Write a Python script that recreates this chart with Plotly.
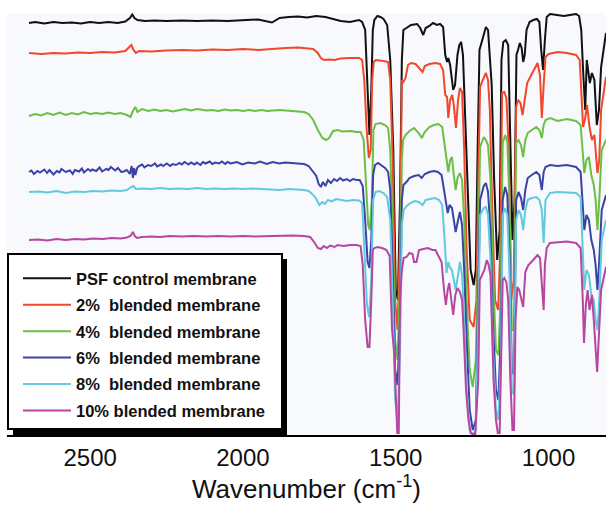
import plotly.graph_objects as go

# FTIR spectra of PSF membranes, stacked with vertical offsets.
# Each list holds (wavenumber cm^-1, offset signal) pairs; the y axis runs
# top-down so that absorption bands point downwards.

psf_control = [
    (2700, 23), (2680, 22), (2650, 23.5), (2620, 22), (2590, 23), (2560, 22.5), (2530, 23.5),
    (2500, 22), (2470, 23), (2440, 22), (2410, 23), (2385, 21.5), (2370, 18), (2362, 14.5),
    (2355, 18), (2345, 20), (2320, 21), (2290, 20.5), (2250, 21), (2200, 20.5), (2150, 21),
    (2100, 20.5), (2050, 21), (2000, 20), (1950, 19.5), (1905, 22.5), (1880, 18), (1850, 17),
    (1820, 16.5), (1790, 17.5), (1760, 16), (1730, 17), (1700, 19), (1680, 21), (1650, 22),
    (1620, 20), (1610, 22), (1600, 30), (1592, 90), (1586, 135), (1580, 90), (1575, 30),
    (1570, 20), (1560, 16), (1550, 17), (1540, 19), (1528, 25), (1518, 60), (1508, 150),
    (1500, 290), (1493, 300), (1486, 200), (1480, 60), (1475, 30), (1465, 28), (1450, 25),
    (1430, 24), (1420, 28), (1410, 35), (1402, 28), (1390, 26), (1378, 23), (1365, 25),
    (1355, 24), (1345, 27), (1338, 55), (1332, 62), (1328, 58), (1322, 65), (1318, 75),
    (1312, 90), (1306, 85), (1298, 55), (1292, 45), (1286, 42), (1280, 55), (1273, 120),
    (1265, 200), (1255, 270), (1245, 285), (1238, 270), (1232, 150), (1226, 50), (1215, 38),
    (1205, 27), (1198, 30), (1192, 55), (1186, 85), (1178, 180), (1168, 260), (1160, 230),
    (1154, 60), (1148, 42), (1140, 40), (1132, 45), (1125, 150), (1118, 240), (1111, 200),
    (1105, 55), (1100, 50), (1094, 43), (1088, 48), (1083, 62), (1078, 55), (1072, 30),
    (1062, 22), (1050, 20), (1038, 19), (1030, 22), (1024, 50), (1018, 70), (1012, 40),
    (1006, 17), (995, 14), (970, 15), (950, 16), (930, 15), (910, 14), (900, 16), (893, 30),
    (887, 70), (880, 110), (875, 60), (865, 83), (858, 73), (850, 80), (842, 125), (835, 110),
    (828, 67), (812, 33),
]

blend_2 = [
    (2700, 53), (2660, 54), (2620, 53), (2580, 53.5), (2540, 52.5), (2500, 53), (2460, 52),
    (2420, 52.5), (2385, 51), (2365, 45), (2358, 50), (2350, 53), (2340, 51), (2300, 51.5),
    (2250, 50.5), (2200, 50), (2150, 50.5), (2100, 49.5), (2050, 50), (2000, 49), (1950, 50),
    (1900, 48.5), (1860, 48), (1820, 47.5), (1790, 48), (1770, 49), (1755, 53), (1745, 58),
    (1735, 60), (1720, 59.5), (1700, 60), (1680, 58.5), (1650, 58), (1620, 58), (1610, 60),
    (1603, 80), (1595, 130), (1588, 158), (1582, 150), (1577, 80), (1572, 62), (1565, 60),
    (1540, 61), (1525, 62), (1518, 80), (1510, 160), (1502, 300), (1494, 330), (1486, 240),
    (1480, 80), (1475, 82), (1468, 78), (1460, 65), (1450, 63), (1435, 64), (1420, 70),
    (1412, 72), (1405, 66), (1390, 64), (1370, 63), (1355, 64), (1345, 70), (1338, 95),
    (1332, 97), (1328, 118), (1322, 100), (1315, 95), (1310, 105), (1303, 128), (1296, 100),
    (1290, 88), (1283, 92), (1276, 150), (1268, 250), (1258, 320), (1245, 327), (1236, 300),
    (1230, 180), (1224, 87), (1215, 80), (1205, 73), (1198, 80), (1192, 110), (1185, 200),
    (1175, 300), (1165, 310), (1158, 250), (1152, 93), (1145, 92), (1138, 98), (1130, 150),
    (1122, 300), (1114, 280), (1106, 107), (1100, 100), (1092, 103), (1085, 115), (1078, 100),
    (1070, 83), (1060, 77), (1048, 70), (1036, 63), (1028, 75), (1022, 118), (1016, 85),
    (1010, 57), (1000, 54), (970, 52), (940, 53), (910, 55), (898, 60), (892, 90), (887, 127),
    (880, 118), (874, 105), (866, 127), (858, 140), (850, 135), (845, 160), (840, 173),
    (834, 160), (828, 110), (812, 77),
]

blend_4 = [
    (2700, 116), (2680, 114), (2660, 115.5), (2640, 113), (2620, 115), (2600, 112.5),
    (2580, 115), (2560, 113), (2540, 114.5), (2520, 112), (2500, 114), (2480, 113),
    (2460, 114), (2440, 112.5), (2420, 114), (2400, 113), (2380, 115), (2368, 117),
    (2360, 111), (2352, 107), (2345, 112), (2330, 109), (2310, 111), (2290, 109.5),
    (2270, 111), (2250, 110), (2230, 111.5), (2210, 110), (2190, 109), (2170, 110.5),
    (2150, 109), (2120, 110.5), (2100, 110), (2080, 111), (2060, 109.5), (2040, 110.5),
    (2020, 110), (2000, 111), (1980, 110), (1960, 111), (1940, 110), (1920, 111),
    (1900, 110.5), (1880, 110), (1860, 110.5), (1840, 111), (1820, 111.5), (1800, 112),
    (1785, 114), (1770, 120), (1755, 130), (1740, 138), (1728, 140), (1718, 138), (1705, 131),
    (1690, 130), (1675, 131.5), (1660, 131), (1645, 131), (1630, 132), (1615, 132),
    (1605, 140), (1598, 180), (1590, 225), (1585, 230), (1578, 200), (1573, 130), (1566, 124),
    (1550, 123), (1535, 125), (1525, 128), (1518, 150), (1510, 230), (1502, 340), (1494, 360),
    (1486, 280), (1480, 160), (1476, 140), (1468, 135), (1455, 131), (1440, 128), (1425, 133),
    (1415, 138), (1405, 132), (1390, 127), (1375, 125), (1360, 124), (1348, 127), (1340, 145),
    (1334, 160), (1328, 172), (1322, 160), (1316, 157), (1310, 175), (1304, 190), (1298, 178),
    (1290, 173), (1283, 180), (1276, 220), (1268, 300), (1258, 370), (1248, 387), (1238, 360),
    (1230, 250), (1224, 147), (1212, 137), (1205, 140), (1198, 145), (1190, 180), (1182, 270),
    (1172, 350), (1164, 355), (1156, 290), (1150, 143), (1142, 135), (1135, 142), (1128, 200),
    (1120, 330), (1113, 330), (1106, 143), (1098, 140), (1090, 145), (1083, 157), (1076, 140),
    (1068, 133), (1055, 130), (1040, 127), (1030, 130), (1022, 138), (1016, 125), (1010, 120),
    (995, 118), (970, 121), (940, 119), (910, 121), (895, 125), (889, 150), (883, 173),
    (876, 160), (868, 157), (860, 175), (852, 185), (846, 200), (840, 230), (834, 200),
    (826, 150), (812, 140),
]

blend_6 = [
    (2700, 172), (2692, 170.5), (2684, 174), (2672, 171), (2664, 172.5), (2650, 169.5),
    (2641, 173), (2633, 170), (2620, 174.5), (2609, 171), (2600, 172.5), (2594, 169),
    (2580, 172), (2566, 170.5), (2557, 174), (2550, 170), (2536, 171.5), (2527, 168.5),
    (2520, 172.5), (2507, 169), (2498, 171), (2493, 169.5), (2480, 171), (2469, 167.5),
    (2461, 171.5), (2447, 169), (2440, 170), (2432, 167), (2418, 170.5), (2409, 168),
    (2398, 172), (2390, 171.5), (2380, 170), (2370, 174), (2364, 166), (2360, 178),
    (2356, 168), (2352, 175), (2346, 168), (2340, 166), (2330, 164.5), (2322, 167.5),
    (2311, 165), (2300, 166), (2288, 163.5), (2281, 166.5), (2268, 164.5), (2261, 166),
    (2249, 163.5), (2238, 166), (2230, 164), (2219, 165), (2208, 163), (2200, 164.5),
    (2191, 162), (2178, 164.5), (2170, 162.5), (2158, 164.5), (2151, 162.5), (2139, 165),
    (2131, 162), (2122, 163.5), (2109, 161.5), (2100, 164), (2091, 162.5), (2078, 163.5),
    (2069, 161.5), (2058, 164), (2051, 162), (2040, 163.5), (2020, 162), (2002, 164.5),
    (1983, 162.5), (1961, 163.5), (1944, 161.5), (1922, 164), (1903, 162), (1881, 163.5),
    (1862, 162.5), (1840, 163), (1820, 163.5), (1800, 164), (1785, 166), (1770, 172),
    (1760, 176), (1752, 184), (1745, 187), (1738, 182), (1730, 186), (1722, 180), (1712, 183),
    (1702, 179), (1692, 181), (1682, 178), (1672, 180.5), (1660, 179), (1650, 181),
    (1640, 179), (1628, 180), (1618, 180), (1608, 186), (1600, 220), (1592, 262), (1586, 268),
    (1580, 240), (1574, 175), (1568, 165), (1558, 163), (1545, 166), (1535, 168), (1525, 172),
    (1518, 190), (1510, 270), (1502, 370), (1494, 385), (1486, 320), (1480, 200), (1475, 185),
    (1465, 182), (1455, 178), (1440, 176), (1425, 175), (1415, 178), (1405, 174), (1390, 172),
    (1375, 171), (1362, 172), (1350, 175), (1342, 190), (1336, 200), (1330, 213), (1324, 205),
    (1316, 208), (1310, 220), (1304, 232), (1296, 220), (1290, 212), (1283, 225), (1276, 270),
    (1268, 340), (1258, 410), (1248, 430), (1238, 420), (1230, 290), (1224, 200), (1212, 186),
    (1205, 183), (1198, 192), (1190, 230), (1182, 320), (1172, 390), (1164, 400), (1156, 330),
    (1150, 200), (1142, 187), (1135, 195), (1128, 250), (1120, 370), (1113, 375), (1106, 200),
    (1098, 192), (1090, 198), (1083, 210), (1076, 190), (1068, 178), (1055, 175), (1040, 172),
    (1030, 175), (1022, 190), (1016, 172), (1010, 167), (995, 165), (970, 166), (940, 165),
    (910, 167), (895, 172), (889, 200), (883, 230), (876, 215), (868, 220), (860, 240),
    (852, 250), (846, 265), (840, 290), (834, 260), (826, 210), (812, 195),
]

blend_8 = [
    (2700, 192), (2670, 191.5), (2640, 192.5), (2610, 191), (2580, 193), (2550, 191.5),
    (2520, 192), (2490, 191), (2460, 191.5), (2430, 190.5), (2400, 191), (2380, 190),
    (2365, 187), (2358, 186), (2350, 189), (2330, 188.5), (2300, 189), (2270, 188),
    (2240, 189), (2210, 188.5), (2180, 189), (2150, 188), (2120, 189), (2090, 188.5),
    (2060, 189), (2030, 188.5), (2000, 189), (1970, 188.5), (1940, 189), (1910, 189.5),
    (1880, 190), (1850, 189), (1820, 189.5), (1800, 190), (1785, 191), (1770, 195),
    (1760, 199), (1750, 205), (1740, 202), (1732, 204), (1722, 200), (1710, 201.5),
    (1695, 199), (1680, 200), (1660, 201), (1640, 200), (1620, 200.5), (1610, 203),
    (1602, 250), (1594, 305), (1587, 317), (1580, 280), (1574, 200), (1566, 192), (1555, 191),
    (1540, 193), (1528, 197), (1518, 220), (1510, 300), (1502, 400), (1494, 420), (1486, 350),
    (1480, 225), (1474, 210), (1464, 206), (1452, 203), (1438, 201), (1425, 202), (1412, 205),
    (1402, 200), (1388, 199), (1372, 198), (1358, 200), (1348, 205), (1340, 240), (1334, 273),
    (1328, 262), (1322, 268), (1316, 270), (1310, 282), (1304, 290), (1296, 275), (1290, 262),
    (1283, 275), (1276, 320), (1268, 390), (1258, 430), (1248, 435), (1238, 430), (1230, 320),
    (1224, 215), (1212, 208), (1205, 207), (1198, 215), (1190, 260), (1182, 350), (1172, 410),
    (1164, 420), (1156, 360), (1150, 215), (1142, 208), (1135, 215), (1128, 270), (1120, 390),
    (1113, 395), (1106, 220), (1098, 210), (1090, 215), (1083, 230), (1076, 210), (1068, 200),
    (1055, 198), (1040, 197), (1030, 200), (1022, 210), (1016, 243), (1010, 200), (995, 193),
    (970, 192), (940, 192.5), (910, 193), (895, 197), (889, 240), (883, 290), (876, 270),
    (868, 275), (860, 295), (852, 300), (846, 320), (840, 330), (834, 300), (826, 240),
    (812, 220),
]

blend_10 = [
    (2700, 240), (2670, 239.5), (2640, 240.5), (2610, 239), (2580, 240), (2550, 239),
    (2520, 239.5), (2490, 238.5), (2460, 239), (2430, 238), (2400, 238.5), (2380, 237.5),
    (2368, 236), (2360, 232), (2354, 236), (2346, 238), (2330, 237), (2300, 236.5),
    (2270, 237), (2240, 236), (2200, 236.5), (2160, 236), (2120, 236.5), (2080, 236),
    (2040, 236.5), (2000, 236), (1960, 236.5), (1920, 236), (1880, 235.5), (1840, 235.5),
    (1800, 236), (1780, 237), (1765, 243), (1755, 248), (1745, 249), (1735, 246), (1725, 248),
    (1715, 245.5), (1700, 247), (1690, 245), (1670, 246), (1650, 245), (1630, 245),
    (1615, 246), (1608, 265), (1600, 320), (1592, 347), (1586, 347), (1580, 300), (1575, 250),
    (1570, 248), (1560, 247), (1545, 248), (1530, 250), (1520, 256), (1512, 330), (1505, 353),
    (1500, 400), (1495, 433), (1490, 433), (1486, 300), (1480, 270), (1474, 258), (1465, 257),
    (1455, 253), (1445, 254), (1440, 262), (1432, 262), (1424, 250), (1410, 249), (1395, 248),
    (1380, 250), (1370, 250), (1362, 255), (1350, 262), (1342, 290), (1336, 305), (1330, 290),
    (1325, 283), (1318, 300), (1312, 315), (1305, 295), (1298, 288), (1290, 292), (1283, 300),
    (1278, 330), (1270, 390), (1262, 420), (1255, 433), (1240, 435), (1230, 380), (1225, 280),
    (1218, 275), (1210, 270), (1202, 260), (1196, 265), (1190, 275), (1186, 330), (1180, 380),
    (1172, 420), (1166, 433), (1160, 433), (1155, 350), (1150, 280), (1145, 278), (1138, 282),
    (1132, 300), (1125, 380), (1118, 430), (1113, 430), (1108, 320), (1102, 287), (1096, 290),
    (1090, 297), (1083, 307), (1076, 272), (1066, 265), (1056, 262), (1046, 258), (1036, 255),
    (1028, 258), (1022, 290), (1016, 310), (1012, 265), (1006, 248), (996, 243), (970, 242),
    (940, 241.5), (910, 243), (895, 248), (888, 300), (884, 343), (878, 305), (872, 290),
    (866, 310), (858, 295), (852, 320), (846, 350), (841, 372), (836, 340), (828, 290),
    (812, 267),
]

series_names = [
    "PSF control membrane",
    "2%  blended membrane",
    "4%  blended membrane",
    "6%  blended membrane",
    "8%  blended membrane",
    "10% blended membrane",
]
series_data = [psf_control, blend_2, blend_4, blend_6, blend_8, blend_10]
series_colors = ["#111111", "#f2472a", "#6cbf45", "#3b43a6", "#62c9de", "#b6469f"]

tick_values = [2500, 2000, 1500, 1000]
x_title = "Wavenumber (cm<sup>-1</sup>)"

FONT = "Arial, Liberation Sans, Helvetica, sans-serif"

fig = go.Figure()
for i, (name, data, color) in enumerate(zip(series_names, series_data, series_colors)):
    wn, val = zip(*data)
    fig.add_trace(go.Scatter(
        x=list(wn), y=list(val), mode="lines", name=name.replace(" ", "\u00a0"),
        line=dict(color=color, width=2), legendgroup=f"g{i}",
    ))

W, H = 606, 508
ml, mr, mt, mb = 7, 0, 13, 73
pw, ph = W - ml - mr, H - mt - mb


def px_x(px):
    return (px - ml) / pw


def px_y(py):
    return (H - mb - py) / ph


fig.update_layout(
    width=W, height=H,
    margin=dict(l=ml, r=mr, t=mt, b=mb, pad=0),
    paper_bgcolor="white",
    plot_bgcolor="#f8f9fc",
    font=dict(family=FONT, color="black"),
    showlegend=True,
    legend=dict(
        x=px_x(18), y=px_y(261), xanchor="left", yanchor="top",
        bgcolor="rgba(0,0,0,0)", borderwidth=0,
        font=dict(family=FONT, size=16.5, color="#111", weight="bold"),
        itemwidth=48, tracegroupgap=2, traceorder="grouped",
    ),
    xaxis=dict(
        range=[2772, 812], tickvals=tick_values, ticks="",
        showline=True, linecolor="black", linewidth=2, mirror=False,
        showgrid=False, zeroline=False,
        tickfont=dict(family=FONT, size=24, color="#111"),
        title=dict(text=x_title, font=dict(family=FONT, size=26, color="#111"), standoff=8),
    ),
    yaxis=dict(range=[435, 13], visible=False, showgrid=False, zeroline=False),
    shapes=[
        # legend drop shadow
        dict(type="rect", xref="paper", yref="paper",
             x0=px_x(13), x1=px_x(287), y0=px_y(435), y1=px_y(259),
             fillcolor="black", line=dict(width=0), layer="above"),
        # legend frame
        dict(type="rect", xref="paper", yref="paper",
             x0=px_x(8), x1=px_x(282), y0=px_y(429), y1=px_y(254),
             fillcolor="white", line=dict(color="black", width=2), layer="above"),
    ],
)

fig.write_html("out.html")
